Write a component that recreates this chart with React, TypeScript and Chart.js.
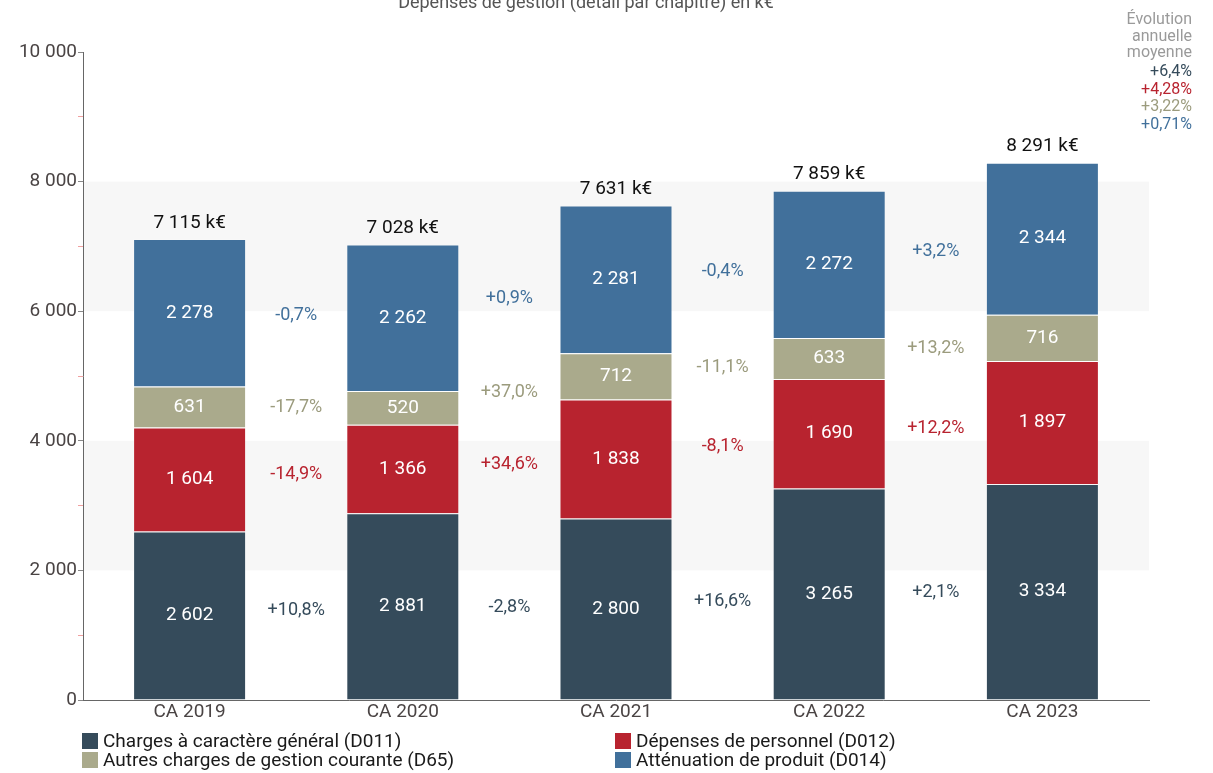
import React, { useEffect, useRef } from "react";
import { Chart, registerables } from "chart.js";
Chart.register(...registerables);

const categories = ["CA 2019", "CA 2020", "CA 2021", "CA 2022", "CA 2023"];
const seriesNames = [
  "Charges à caractère général (D011)",
  "Dépenses de personnel (D012)",
  "Autres charges de gestion courante (D65)",
  "Atténuation de produit (D014)",
];
const d011 = [2602, 2881, 2800, 3265, 3334];
const d012 = [1604, 1366, 1838, 1690, 1897];
const d65 = [631, 520, 712, 633, 716];
const d014 = [2278, 2262, 2281, 2272, 2344];
const totals = [7115, 7028, 7631, 7859, 8291];
const chg011 = ["+10,8%", "-2,8%", "+16,6%", "+2,1%"];
const chg012 = ["-14,9%", "+34,6%", "-8,1%", "+12,2%"];
const chg65 = ["-17,7%", "+37,0%", "-11,1%", "+13,2%"];
const chg014 = ["-0,7%", "+0,9%", "-0,4%", "+3,2%"];
const avgHeader = ["Évolution", "annuelle", "moyenne"];
const avgEvolution = ["+6,4%", "+4,28%", "+3,22%", "+0,71%"];
const bands = [
  [2000, 4000],
  [6000, 8000],
];
const title = "Dépenses de gestion (détail par chapitre) en k€";

const barColors = ["#354b5b", "#b8232f", "#aaaa8c", "#41709b"];
const textColors = ["#354b5b", "#b8232f", "#9b9b7d", "#41709b"];
const FONT = "Roboto, 'Noto Sans', sans-serif";

const seriesValues = [d011, d012, d65, d014];
const seriesChanges = [chg011, chg012, chg65, chg014];

const fmt = (n: number) => String(n).replace(/\B(?=(\d{3})+(?!\d))/g, " ");

const overlayPlugin = {
  id: "overlay",
  beforeDraw(chart: any) {
    const { ctx, chartArea } = chart;
    const y = chart.scales.y;
    ctx.save();
    ctx.fillStyle = "#f7f7f7";
    bands.forEach(([a, b]) => {
      const y1 = y.getPixelForValue(b);
      const y2 = y.getPixelForValue(a);
      ctx.fillRect(chartArea.left, y1, chartArea.right - chartArea.left, y2 - y1);
    });
    ctx.restore();
  },
  afterDatasetsDraw(chart: any) {
    const { ctx } = chart;
    ctx.save();
    ctx.textAlign = "center";
    ctx.textBaseline = "middle";
    // segment labels
    ctx.font = `19px ${FONT}`;
    ctx.fillStyle = "#ffffff";
    seriesValues.forEach((vals, i) => {
      const meta = chart.getDatasetMeta(i);
      vals.forEach((v, j) => {
        const el: any = meta.data[j];
        ctx.fillText(fmt(v), el.x, (el.y + el.base) / 2);
      });
    });
    // totals
    const topMeta = chart.getDatasetMeta(seriesValues.length - 1);
    ctx.font = `19px ${FONT}`;
    ctx.fillStyle = "#111111";
    totals.forEach((t, j) => {
      const el: any = topMeta.data[j];
      ctx.fillText(`${fmt(t)} k€`, el.x, el.y - 16);
    });
    // changes
    ctx.font = `18px ${FONT}`;
    seriesChanges.forEach((chg, i) => {
      const meta = chart.getDatasetMeta(i);
      ctx.fillStyle = textColors[i];
      chg.forEach((label, j) => {
        const a: any = meta.data[j];
        const b: any = meta.data[j + 1];
        const ma = (a.y + a.base) / 2;
        const mb = (b.y + b.base) / 2;
        ctx.fillText(label, (a.x + b.x) / 2, (ma + mb) / 2);
      });
    });
    // title
    ctx.font = `18px ${FONT}`;
    ctx.fillStyle = "#555555";
    ctx.textBaseline = "alphabetic";
    ctx.fillText(title, 586, 8);
    // annual evolution
    ctx.textAlign = "right";
    ctx.textBaseline = "middle";
    ctx.font = `16px ${FONT}`;
    ctx.fillStyle = "#9a9a9a";
    avgHeader.forEach((h, k) => ctx.fillText(h, 1192, 20 + k * 16.5));
    avgEvolution.forEach((v, k) => {
      ctx.fillStyle = textColors[k];
      ctx.fillText(v, 1192, 72 + k * 17.7);
    });
    // legend
    ctx.textAlign = "left";
    ctx.font = `19px ${FONT}`;
    const cols = [82, 615];
    const rows = [741, 760];
    seriesNames.forEach((name, i) => {
      const x = cols[i % 2];
      const yy = rows[Math.floor(i / 2)];
      ctx.fillStyle = barColors[i];
      ctx.fillRect(x, yy - 8, 16, 16);
      ctx.fillStyle = "#1a1a1a";
      ctx.fillText(name, x + 21, yy + 1);
    });
    ctx.restore();
  },
};

export default function App() {
  const ref = useRef<HTMLCanvasElement>(null);
  useEffect(() => {
    if (!ref.current) return;
    const chart = new Chart(ref.current, {
      type: "bar",
      data: {
        labels: categories,
        datasets: seriesValues.map((vals, i) => ({
          label: seriesNames[i],
          data: vals,
          backgroundColor: barColors[i],
          borderColor: "rgba(255,255,255,0.18)",
          borderWidth: 1,
          stack: "s",
          categoryPercentage: 1,
          barPercentage: 0.53,
        })),
      },
      options: {
        responsive: false,
        animation: false,
        layout: { padding: { left: 0, top: 52, right: 64, bottom: 0 } },
        plugins: {
          legend: { display: false },
          title: { display: false },
          tooltip: { enabled: false },
        },
        scales: {
          x: {
            stacked: true,
            grid: { display: false, drawTicks: false },
            border: { display: true, color: "#666666", width: 1 },
            ticks: { color: "#4a4444", font: { size: 19, family: FONT }, padding: 1 },
            afterFit: (s: any) => {
              s.height = 73;
            },
          },
          y: {
            stacked: true,
            min: 0,
            max: 10000,
            grid: {
              drawOnChartArea: false,
              drawTicks: true,
              tickLength: 5,
              tickColor: (c: any) =>
                c.tick && c.tick.value % 2000 === 0 ? "#888888" : "#f0a0a0",
            },
            border: { display: true, color: "#666666", width: 1 },
            ticks: {
              stepSize: 1000,
              color: "#4a4444",
              font: { size: 19, family: FONT },
              padding: 1,
              callback: (v: any) => (Number(v) % 2000 === 0 ? fmt(Number(v)) : ""),
            },
            afterFit: (s: any) => {
              s.width = 83;
            },
          },
        },
      },
      plugins: [overlayPlugin],
    });
    return () => chart.destroy();
  }, []);
  return (
    <div style={{ position: "fixed", left: 0, top: 0, width: 1213, height: 773, background: "#fff" }}>
      <canvas ref={ref} width={1213} height={773} style={{ display: "block" }} />
    </div>
  );
}
